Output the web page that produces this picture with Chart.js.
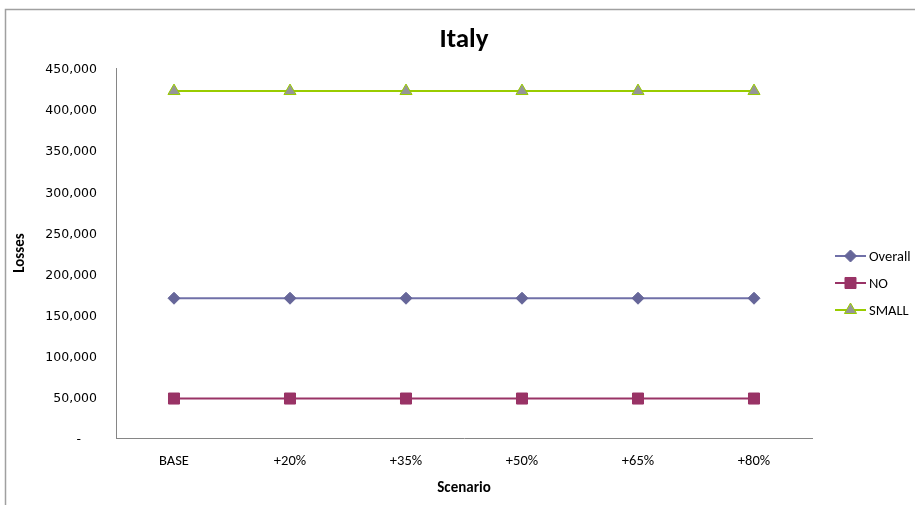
<!DOCTYPE html>
<html>
<head>
<meta charset="utf-8">
<script src="https://cdn.jsdelivr.net/npm/chart.js@4.4.1/dist/chart.umd.min.js"></script>
<style>
html,body{margin:0;padding:0;background:#fff;}
#wrap{width:915px;height:505px;position:relative;}
</style>
</head>
<body>
<div id="wrap"><canvas id="c" width="915" height="505"></canvas></div>
<script>
const chartTitle = 'Italy';
const categories = ['BASE', '+20%', '+35%', '+50%', '+65%', '+80%'];
const seriesNames = ['Overall', 'NO', 'SMALL'];
const overallValues = [170000, 170000, 170000, 170000, 170000, 170000];
const noValues = [48000, 48000, 48000, 48000, 48000, 48000];
const smallValues = [422000, 422000, 422000, 422000, 422000, 422000];
const yTicks = [0, 50000, 100000, 150000, 200000, 250000, 300000, 350000, 400000, 450000];
const xTitle = 'Scenario';
const yTitle = 'Losses';

const FONT = 'Carlito, Lato, "Liberation Sans", sans-serif';
const YFONT = '"DejaVu Sans", sans-serif';

const styles = [
  {line: '#7070A8', fill: '#666699', border: '#666699', point: 'rectRot', r: 6},
  {line: '#993366', fill: '#993366', border: '#993366', point: 'rect', r: 7.8},
  {line: '#99CC00', fill: '#969696', border: '#99CC00', point: 'triangle', r: 7}
];
const values = [overallValues, noValues, smallValues];

const datasets = seriesNames.map((n, i) => ({
  label: n,
  data: values[i],
  borderColor: styles[i].line,
  backgroundColor: styles[i].fill,
  pointBackgroundColor: styles[i].fill,
  pointBorderColor: styles[i].border,
  pointBorderWidth: 1,
  pointStyle: styles[i].point,
  pointRadius: styles[i].r,
  pointHoverRadius: styles[i].r,
  borderWidth: 2,
  tension: 0
}));

const decor = {
  id: 'decor',
  beforeDraw(chart) {
    const ctx = chart.ctx;
    ctx.save();
    ctx.strokeStyle = '#A0A0A0';
    ctx.lineWidth = 1.5;
    ctx.beginPath();
    ctx.moveTo(5.5, 505);
    ctx.lineTo(5.5, 9.5);
    ctx.lineTo(915, 9.5);
    ctx.stroke();
    ctx.restore();
  },
  afterDraw(chart) {
    const ctx = chart.ctx;
    const ca = chart.chartArea;
    ctx.save();
    // title
    ctx.fillStyle = '#000';
    ctx.font = 'bold 27px ' + FONT;
    ctx.textAlign = 'center';
    ctx.textBaseline = 'middle';
    ctx.fillText(chartTitle, (ca.left + ca.right) / 2, 40);
    // legend
    const ys = [256, 283, 310];
    ctx.font = '14.5px ' + FONT;
    ctx.textAlign = 'left';
    seriesNames.forEach((n, i) => {
      const y = ys[i];
      ctx.strokeStyle = styles[i].line;
      ctx.lineWidth = 2;
      ctx.beginPath();
      ctx.moveTo(835, y);
      ctx.lineTo(866, y);
      ctx.stroke();
      ctx.fillStyle = styles[i].fill;
      ctx.strokeStyle = styles[i].border;
      ctx.lineWidth = 1;
      Chart.helpers.drawPoint(ctx, {pointStyle: styles[i].point, radius: styles[i].r, rotation: 0, borderWidth: 1}, 850.5, y);
      ctx.fillStyle = '#000';
      ctx.fillText(n, 869, y + 1);
    });
    ctx.restore();
  }
};

new Chart(document.getElementById('c'), {
  type: 'line',
  data: {labels: categories, datasets},
  options: {
    responsive: false,
    animation: false,
    devicePixelRatio: 1,
    layout: {padding: {top: 68, right: 103, left: 0, bottom: 0}},
    plugins: {legend: {display: false}, title: {display: false}, tooltip: {enabled: false}},
    scales: {
      x: {
        type: 'category',
        offset: true,
        grid: {display: false, drawTicks: false},
        border: {display: true, color: '#868686', width: 1},
        ticks: {color: '#000', font: {family: FONT, size: 14.5}, padding: 15, maxRotation: 0, autoSkip: false},
        title: {display: true, text: xTitle, color: '#000', font: {family: FONT, size: 15, weight: 'bold'}, padding: {top: 0, bottom: 8}},
        afterFit(s) { s.height = 67; }
      },
      y: {
        min: 0, max: 450000,
        afterBuildTicks(s) { s.ticks = yTicks.map(v => ({value: v})); },
        grid: {display: false, drawTicks: false},
        border: {display: true, color: '#868686', width: 1},
        ticks: {
          color: '#000', font: {family: YFONT, size: 12.5}, padding: 19, labelOffset: 2,
          callback: v => v === 0 ? '-    ' : v.toLocaleString('en-US')
        },
        title: {display: true, text: yTitle, color: '#000', font: {family: FONT, size: 15, weight: 'bold'}, padding: {top: 11, bottom: 0}},
        afterFit(s) { s.width = 116; }
      }
    }
  },
  plugins: [decor]
});
</script>
</body>
</html>
